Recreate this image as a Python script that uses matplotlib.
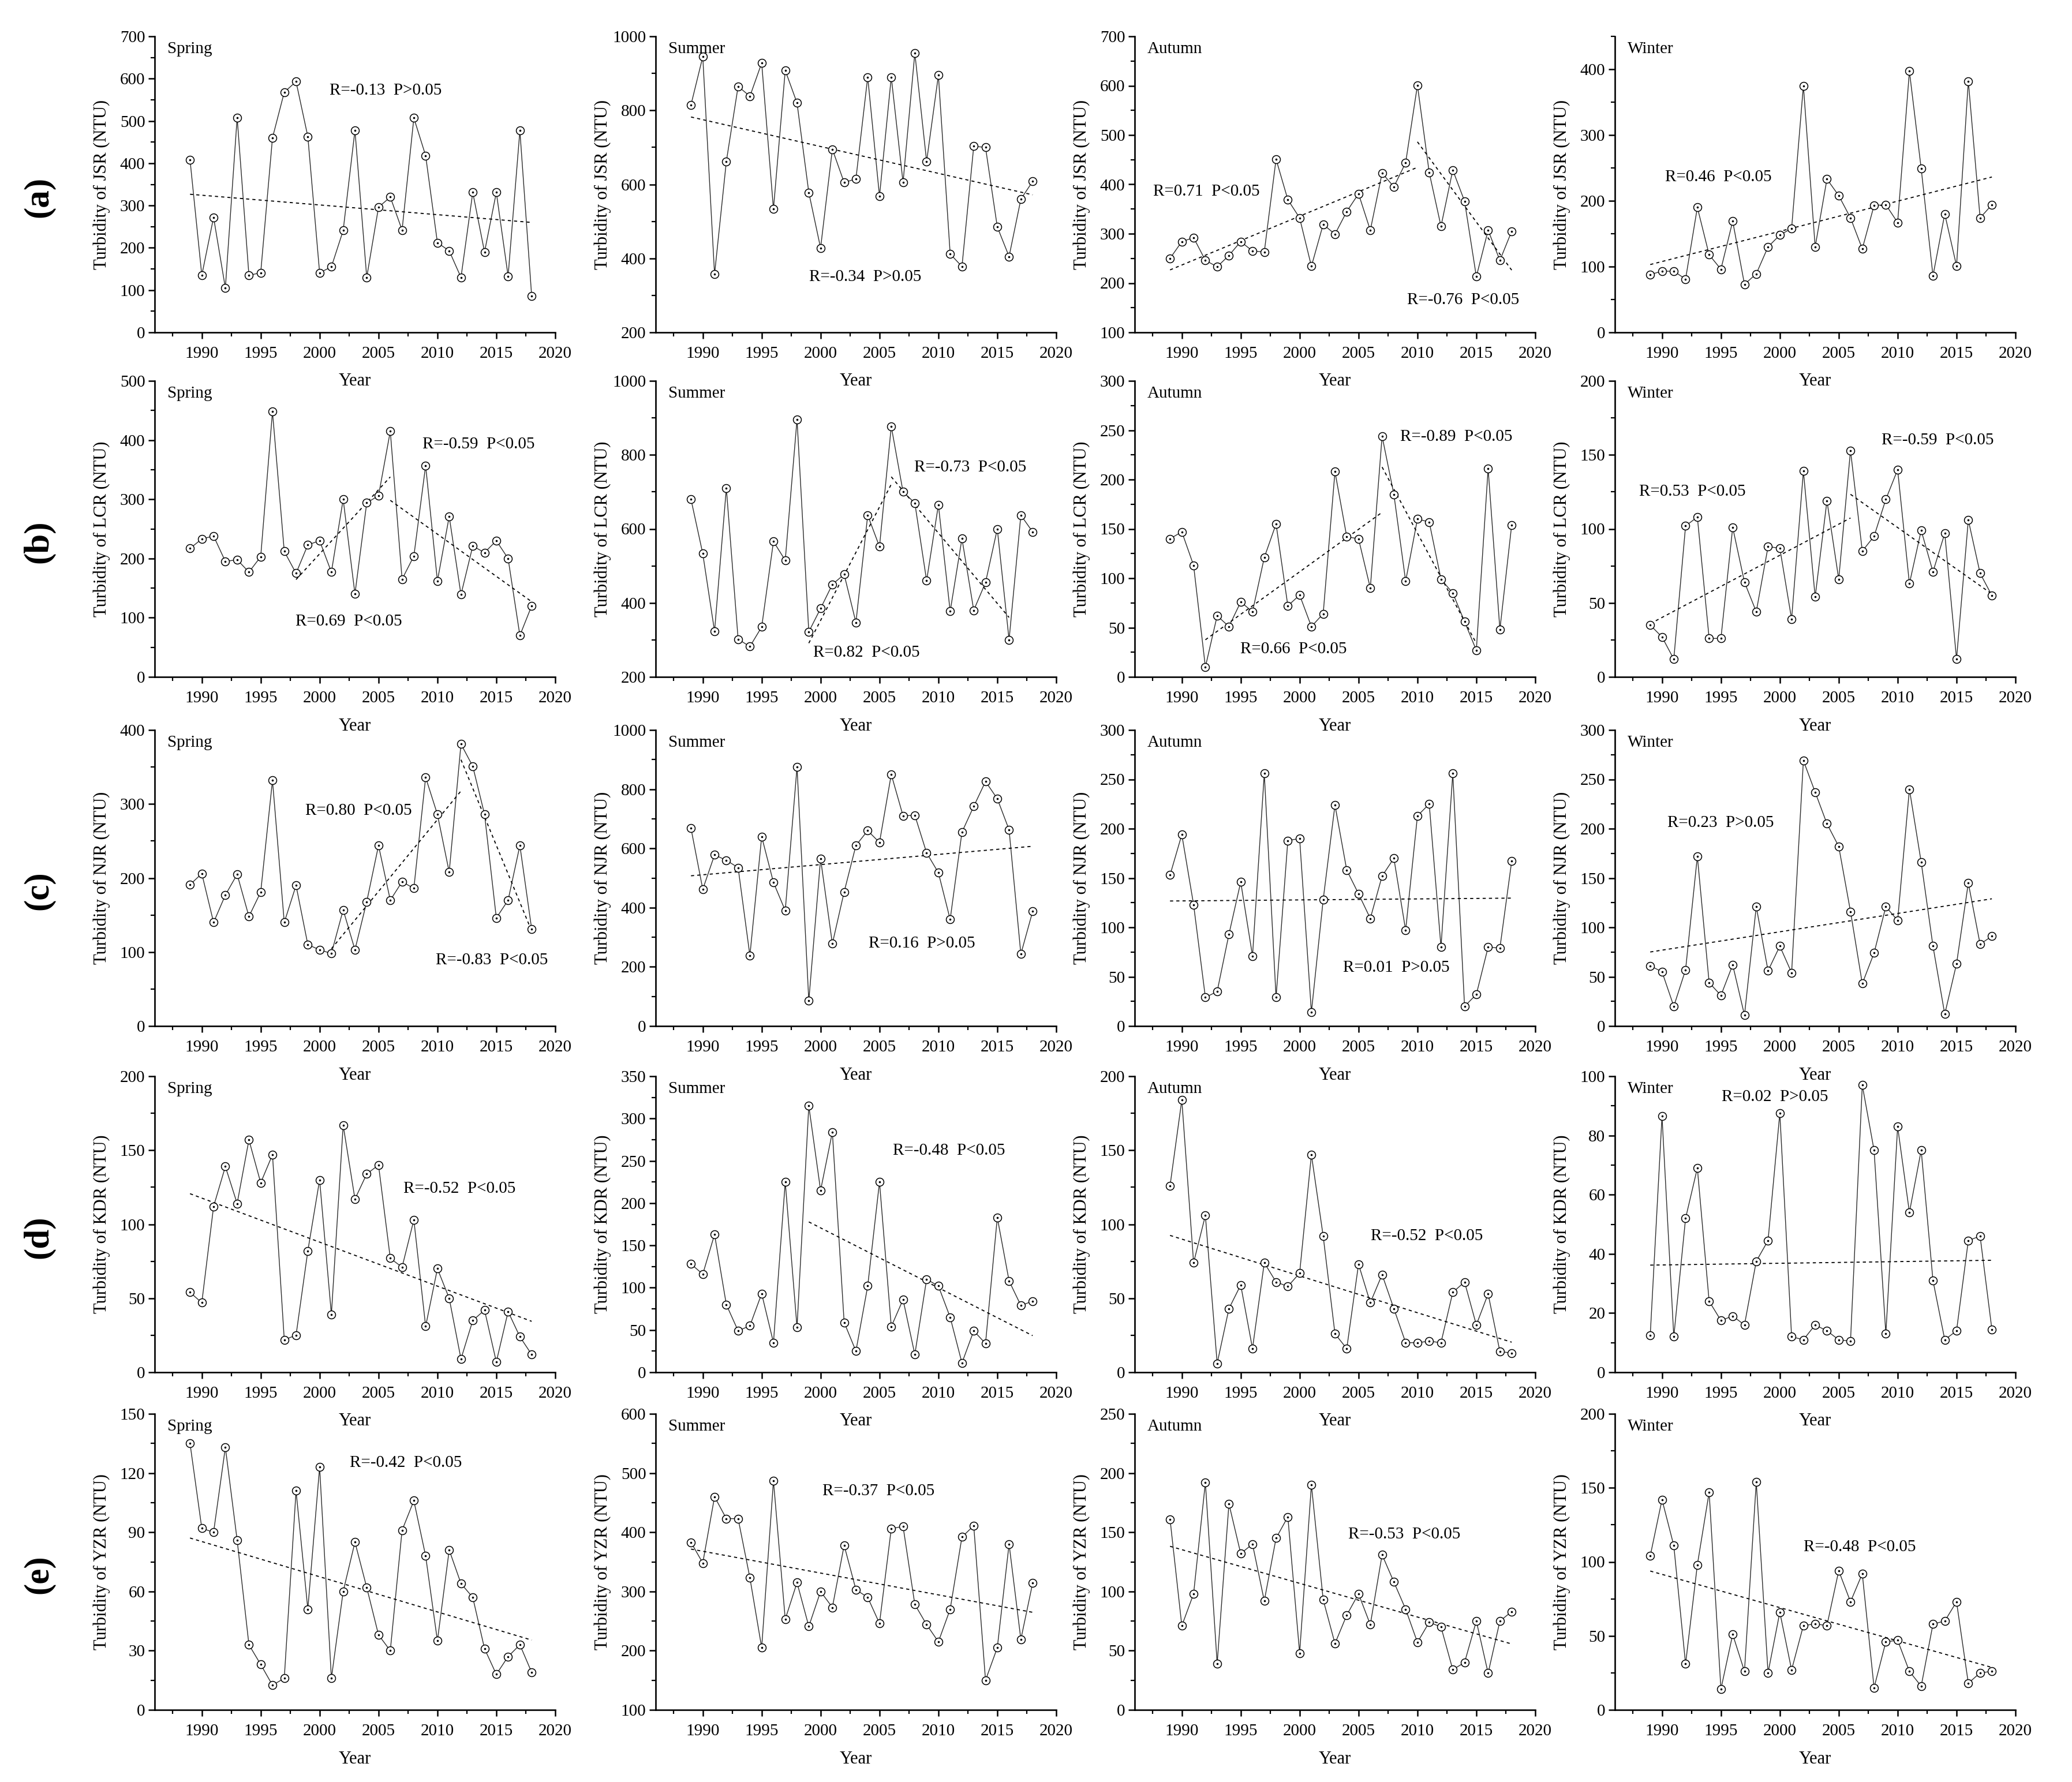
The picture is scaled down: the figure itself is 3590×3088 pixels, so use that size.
import numpy as np
import matplotlib
matplotlib.use('Agg')
import matplotlib.pyplot as plt
from matplotlib.ticker import MultipleLocator

plt.rcParams['font.family'] = ['Liberation Serif', 'DejaVu Serif']

years = list(range(1989, 2019))
seasons = ['Spring', 'Summer', 'Autumn', 'Winter']
stations = ['JSR', 'LCR', 'NJR', 'KDR', 'YZR']
row_tags = ['(a)', '(b)', '(c)', '(d)', '(e)']

# turbidity (NTU), one list per station and season
jsr_spring = [408, 135, 272, 105, 508, 135, 141, 460, 568, 593, 463, 141, 155, 241, 478,
              130, 296, 320, 242, 507, 418, 212, 193, 130, 331, 190, 331, 133, 477, 86]
jsr_summer = [815, 945, 357, 662, 865, 838, 928, 533, 908, 820, 578, 428, 695, 605, 615,
              890, 568, 890, 605, 955, 662, 895, 412, 378, 703, 700, 485, 405, 560, 608]
jsr_autumn = [250, 284, 292, 246, 233, 256, 284, 265, 263, 451, 369, 332, 234, 319, 299,
              345, 381, 307, 423, 395, 444, 601, 424, 315, 429, 366, 213, 307, 246, 305]
jsr_winter = [88, 93, 93, 81, 190, 118, 96, 169, 73, 89, 130, 148, 158, 375, 130,
              233, 208, 174, 127, 193, 194, 167, 397, 249, 86, 180, 101, 382, 174, 194]

lcr_spring = [217, 233, 238, 195, 198, 177, 203, 448, 212, 175, 223, 230, 177, 300, 140,
              294, 306, 415, 165, 204, 357, 162, 271, 139, 221, 210, 230, 200, 70, 120]
lcr_summer = [680, 533, 323, 710, 302, 282, 335, 566, 515, 896, 322, 385, 450, 477, 347,
              637, 552, 877, 700, 670, 460, 665, 377, 574, 380, 455, 600, 300, 637, 592]
lcr_autumn = [140, 147, 113, 10, 62, 51, 76, 66, 121, 155, 72, 83, 51, 64, 208,
              142, 140, 90, 244, 185, 97, 160, 157, 99, 85, 56, 27, 211, 48, 154]
lcr_winter = [35, 27, 12, 102, 108, 26, 26, 101, 64, 44, 88, 87, 39, 139, 54,
              119, 66, 153, 85, 95, 120, 140, 63, 99, 71, 97, 12, 106, 70, 55]

njr_spring = [191, 206, 140, 177, 205, 148, 181, 332, 140, 190, 110, 103, 98, 157, 103,
              168, 244, 170, 195, 186, 336, 286, 208, 381, 351, 286, 146, 170, 244, 131]
njr_summer = [668, 462, 578, 560, 535, 238, 640, 485, 390, 875, 85, 565, 278, 453, 610,
              660, 620, 850, 710, 712, 585, 518, 360, 655, 742, 826, 768, 663, 243, 387]
njr_autumn = [153, 194, 123, 29, 35, 93, 146, 71, 256, 29, 188, 190, 14, 128, 224,
              158, 134, 109, 152, 170, 97, 213, 225, 80, 256, 20, 32, 80, 79, 167]
njr_winter = [61, 55, 20, 57, 172, 44, 31, 62, 11, 121, 56, 81, 54, 269, 237,
              205, 182, 116, 43, 74, 121, 107, 240, 166, 81, 12, 63, 145, 83, 91]

kdr_spring = [54, 47, 112, 139, 114, 157, 128, 147, 22, 25, 82, 130, 39, 167, 117,
              134, 140, 77, 71, 103, 31, 70, 50, 9, 35, 42, 7, 41, 24, 12]
kdr_summer = [128, 116, 163, 80, 49, 55, 93, 35, 225, 53, 315, 215, 284, 59, 25,
              102, 225, 54, 86, 21, 110, 102, 65, 11, 49, 34, 183, 108, 79, 84]
kdr_autumn = [126, 184, 74, 106, 6, 43, 59, 16, 74, 61, 58, 67, 147, 92, 26,
              16, 73, 47, 66, 43, 20, 20, 21, 20, 54, 61, 32, 53, 14, 13]
kdr_winter = [12.5, 86.5, 12, 52, 69, 24, 17.5, 19, 16, 37.5, 44.5, 87.5, 12, 11, 16,
              14, 11, 10.5, 97, 75, 13, 83, 54, 75, 31, 11, 14, 44.5, 46, 14.5]

yzr_spring = [135, 92, 90, 133, 86, 33, 23, 12.5, 16, 111, 51, 123, 16, 60, 85,
              62, 38, 30, 91, 106, 78, 35, 81, 64, 57, 31, 18, 27, 33, 19]
yzr_summer = [383, 348, 460, 423, 423, 323, 205, 487, 253, 315, 241, 300, 273, 378, 303,
              290, 246, 406, 410, 278, 244, 215, 270, 392, 411, 150, 205, 380, 219, 314]
yzr_autumn = [161, 71, 98, 192, 39, 174, 132, 140, 92, 145, 163, 48, 190, 93, 56,
              80, 98, 72, 131, 108, 85, 57, 74, 70, 34, 40, 75, 31, 75, 83]
yzr_winter = [104, 142, 111, 31, 98, 147, 14, 51, 26, 154, 25, 66, 27, 57, 58,
              57, 94, 73, 92, 15, 46, 47, 26, 16, 58, 60, 73, 18, 25, 26]

data = [
    [jsr_spring, jsr_summer, jsr_autumn, jsr_winter],
    [lcr_spring, lcr_summer, lcr_autumn, lcr_winter],
    [njr_spring, njr_summer, njr_autumn, njr_winter],
    [kdr_spring, kdr_summer, kdr_autumn, kdr_winter],
    [yzr_spring, yzr_summer, yzr_autumn, yzr_winter],
]

# year ranges of the fitted trend lines
trend_spans = [
    [[(1989, 2018)], [(1989, 2018)], [(1989, 2010), (2010, 2018)], [(1989, 2018)]],
    [[(1998, 2006), (2006, 2018)], [(1999, 2006), (2006, 2016)],
     [(1992, 2007), (2007, 2015)], [(1989, 2006), (2006, 2018)]],
    [[(2001, 2012), (2012, 2018)], [(1989, 2018)], [(1989, 2018)], [(1989, 2018)]],
    [[(1989, 2018)], [(1999, 2018)], [(1989, 2018)], [(1989, 2018)]],
    [[(1989, 2018)], [(1989, 2018)], [(1989, 2018)], [(1989, 2018)]],
]

# R / P annotations: (year, value, text)
notes = [
    [[(2005.6, 572, 'R=-0.13  P>0.05')],
     [(2003.8, 350, 'R=-0.34  P>0.05')],
     [(1992.1, 385, 'R=0.71  P<0.05'), (2013.9, 165, 'R=-0.76  P<0.05')],
     [(1994.8, 236, 'R=0.46  P<0.05')]],
    [[(2013.5, 393, 'R=-0.59  P<0.05'), (2002.5, 94, 'R=0.69  P<0.05')],
     [(2012.7, 766, 'R=-0.73  P<0.05'), (2003.9, 265, 'R=0.82  P<0.05')],
     [(2013.3, 243, 'R=-0.89  P<0.05'), (1999.5, 28, 'R=0.66  P<0.05')],
     [(1992.6, 125, 'R=0.53  P<0.05'), (2013.4, 160, 'R=-0.59  P<0.05')]],
    [[(2003.3, 291, 'R=0.80  P<0.05'), (2014.6, 89, 'R=-0.83  P<0.05')],
     [(2008.6, 278, 'R=0.16  P>0.05')],
     [(2008.2, 59, 'R=0.01  P>0.05')],
     [(1995.0, 206, 'R=0.23  P>0.05')]],
    [[(2011.9, 124, 'R=-0.52  P<0.05')],
     [(2010.9, 262, 'R=-0.48  P<0.05')],
     [(2010.8, 92, 'R=-0.52  P<0.05')],
     [(1999.6, 93, 'R=0.02  P>0.05')]],
    [[(2007.3, 125, 'R=-0.42  P<0.05')],
     [(2004.9, 469, 'R=-0.37  P<0.05')],
     [(2008.9, 148, 'R=-0.53  P<0.05')],
     [(2006.8, 110, 'R=-0.48  P<0.05')]],
]

# y ranges: (low, high, major step)
y_ranges = [
    [(0, 700, 100), (200, 1000, 200), (100, 700, 100), (0, 450, 100)],
    [(0, 500, 100), (200, 1000, 200), (0, 300, 50), (0, 200, 50)],
    [(0, 400, 100), (0, 1000, 200), (0, 300, 50), (0, 300, 50)],
    [(0, 200, 50), (0, 350, 50), (0, 200, 50), (0, 100, 20)],
    [(0, 150, 30), (100, 600, 100), (0, 250, 50), (0, 200, 50)],
]

W, H = 3590, 3088
fig = plt.figure(figsize=(W / 100, H / 100), dpi=100)
fig.patch.set_facecolor('white')

col_left = [268, 1136, 1966, 2798]
row_top = [63, 660, 1265, 1865, 2450]
aw, ah = 694, 513

yrs = np.array(years)
for r in range(5):
    for c in range(4):
        ax = fig.add_axes([col_left[c] / W, 1 - (row_top[r] + ah) / H, aw / W, ah / H])
        ax.set_facecolor('none')
        vals = np.array(data[r][c], dtype=float)

        ax.plot(yrs, vals, '-', color='#2a2a2a', lw=1.0, zorder=2)
        ax.plot(yrs, vals, linestyle='none', marker='o', ms=10, mfc='white',
                mec='black', mew=1.1, zorder=4)
        ax.plot(yrs, vals, linestyle='none', marker='o', ms=1.6, color='black', zorder=5)

        for (y0, y1) in trend_spans[r][c]:
            m = (yrs >= y0) & (yrs <= y1)
            coef = np.polyfit(yrs[m], vals[m], 1)
            xs = np.array([y0, y1])
            ax.plot(xs, np.polyval(coef, xs), color='black', lw=1.3,
                    ls=(0, (3, 3)), zorder=3)

        for (tx, ty, txt) in notes[r][c]:
            ax.text(tx, ty, txt, fontsize=21, ha='center', va='center')

        ax.text(0.032, 0.958, seasons[c], transform=ax.transAxes, fontsize=21,
                ha='left', va='center')

        lo, hi, step = y_ranges[r][c]
        ax.set_ylim(lo, hi)
        ax.set_xlim(1986, 2020)
        ax.yaxis.set_major_locator(MultipleLocator(step))
        ax.yaxis.set_minor_locator(MultipleLocator(step / 2))
        ax.xaxis.set_major_locator(MultipleLocator(5))
        ax.xaxis.set_minor_locator(MultipleLocator(2.5))
        ax.set_xticks(range(1990, 2021, 5))

        for s in ['top', 'right']:
            ax.spines[s].set_visible(False)
        for s in ['left', 'bottom']:
            ax.spines[s].set_linewidth(1.9)
        ax.tick_params(which='major', direction='out', length=8, width=1.8, labelsize=21)
        ax.tick_params(which='minor', direction='out', length=5, width=1.6)
        ax.tick_params(axis='x', which='major', pad=9)
        ax.tick_params(axis='y', which='major', pad=4)

        ax.set_xlabel('Year', fontsize=22)
        ax.xaxis.set_label_coords(0.5, -85 / ah)
        ax.xaxis.label.set_va('center')
        ax.set_ylabel('Turbidity of %s (NTU)' % stations[r], fontsize=22)
        ax.yaxis.set_label_coords(-92 / aw, 0.5)
        ax.yaxis.label.set_va('center')

    fig.text(67 / W, 1 - (row_top[r] + ah / 2 + 22) / H, row_tags[r], fontsize=44,
             fontweight='bold', rotation=90, ha='center', va='center')

fig.savefig('out.png', dpi=100)
